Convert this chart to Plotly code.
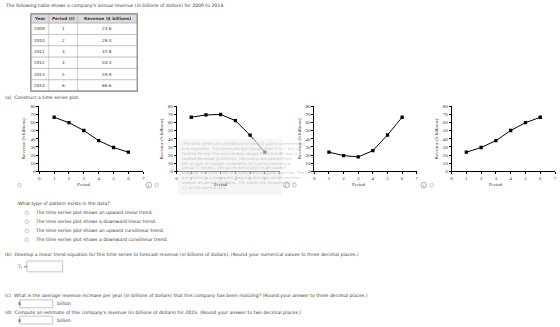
import plotly.graph_objects as go

W, H = 560, 327

# ---------------- data ----------------
years = ["2009", "2010", "2011", "2012", "2013", "2014"]
periods = [1, 2, 3, 4, 5, 6]
revenue = [23.6, 29.4, 37.8, 50.3, 59.9, 66.6]
table_headers = ["Year", "Period (<i>t</i>)", "Revenue ($ billions)"]

plot_a_values = [66.6, 59.9, 50.3, 37.8, 29.4, 23.6]
plot_b_values = [66.6, 69.5, 70.0, 62.5, 44.5, 23.6]
plot_c_values = [23.6, 19.4, 17.8, 25.5, 44.8, 66.6]
plot_d_values = [23.6, 29.4, 37.8, 50.3, 59.9, 66.6]

x_ticks = [0, 1, 2, 3, 4, 5, 6, 7]
y_ticks = [0, 10, 20, 30, 40, 50, 60, 70, 80]

options = [
    "The time series plot shows an upward linear trend.",
    "The time series plot shows a downward linear trend.",
    "The time series plot shows an upward curvilinear trend.",
    "The time series plot shows a downward curvilinear trend.",
]


def X(px):
    return px / W


def Y(py):
    return 1 - py / H


BODY = "DejaVu Sans"
SERIF = "Liberation Serif"
TXT = "#3a3a3a"
FS = 4.6

fig = go.Figure()
annotations = []
shapes = []


def txt(x, y, s, size=FS, anchor="left", color=TXT, family=BODY):
    annotations.append(dict(x=X(x), y=Y(y), xref="paper", yref="paper", text=s,
                            showarrow=False, xanchor=anchor, yanchor="middle",
                            font=dict(family=family, size=size, color=color)))


def rect(x0, y0, x1, y1, line="#a0a0a0", lw=0.6, fill="white", layer="above"):
    shapes.append(dict(type="rect", xref="paper", yref="paper", layer=layer,
                       x0=X(x0), x1=X(x1), y0=Y(y1), y1=Y(y0),
                       line=dict(color=line, width=lw), fillcolor=fill))


# ---------------- table (drawn from the arrays) ----------------
col_edges = [30, 48, 77, 137]
header_top, header_bot, row_h = 12, 21.5, 11.5
n_rows = len(years)
table_bot = header_bot + n_rows * row_h
rect(col_edges[0], header_top, col_edges[-1], header_bot, line="#aaaaaa", lw=0.6, fill="#dcdcdc", layer="below")
for r in range(n_rows):
    rect(col_edges[0], header_bot + r * row_h, col_edges[-1], header_bot + (r + 1) * row_h,
         line="#b0b0b0", lw=0.6, fill="white", layer="below")
for c in col_edges[1:-1]:
    shapes.append(dict(type="line", xref="paper", yref="paper", layer="below",
                       x0=X(c), x1=X(c), y0=Y(header_top), y1=Y(table_bot),
                       line=dict(color="#b0b0b0", width=0.6)))
rect(col_edges[0], header_top, col_edges[-1], table_bot, line="#8a8a8a", lw=1.2, fill="rgba(0,0,0,0)", layer="below")
for c, h in enumerate(table_headers):
    txt((col_edges[c] + col_edges[c + 1]) / 2, (header_top + header_bot) / 2, "<b>" + h + "</b>",
        size=4.2, anchor="center", color="#333")
columns = [years, periods, revenue]
for c, col in enumerate(columns):
    for r, v in enumerate(col):
        txt((col_edges[c] + col_edges[c + 1]) / 2, header_bot + (r + 0.5) * row_h, str(v),
            size=4.2, anchor="center", color="#333")

# ---------------- plots ----------------
plots = [
    (plot_a_values, 38.5, 143),
    (plot_b_values, 176.5, 280),
    (plot_c_values, 315, 418),
    (plot_d_values, 453, 557),
]
y_top, y_bot = 106, 172

for i, (vals, x0, x1) in enumerate(plots, start=1):
    xa = "x" if i == 1 else f"x{i}"
    ya = "y" if i == 1 else f"y{i}"
    fig.add_trace(go.Scatter(
        x=periods, y=vals, xaxis=xa, yaxis=ya, mode="lines+markers",
        line=dict(color="black", width=1),
        marker=dict(symbol="square", size=3.3, color="black"),
        showlegend=False, hoverinfo="skip",
    ))
    axcommon = dict(showline=True, linecolor="black", linewidth=0.8, ticks="outside",
                    ticklen=2, tickwidth=0.8, tickcolor="black", showgrid=False,
                    zeroline=False, tickfont=dict(family=SERIF, size=5, color="#333"))
    fig.layout[("xaxis" if i == 1 else f"xaxis{i}")] = dict(
        domain=[X(x0), X(x1)], range=[0, 7], tickvals=x_ticks, anchor=ya, **axcommon)
    fig.layout[("yaxis" if i == 1 else f"yaxis{i}")] = dict(
        domain=[Y(y_bot), Y(y_top)], range=[0, 80], tickvals=y_ticks, anchor=xa, **axcommon)
    txt(x0 - 15, (y_top + y_bot) / 2, "Revenue ($ billions)", size=5, anchor="center",
        color="#333", family=SERIF)
    annotations[-1]["textangle"] = -90
    txt((x0 + x1) / 2 - 7, 185, "Period", size=5, anchor="center", color="#333", family=SERIF)
    # radio button
    rx = x0 - 20
    shapes.append(dict(type="circle", xref="paper", yref="paper",
                       x0=X(rx - 2), x1=X(rx + 2), y0=Y(188), y1=Y(184),
                       line=dict(color="#b0b0b0", width=0.6), fillcolor="#f4f4f4"))
    if i > 1:
        ix = rx - 8
        shapes.append(dict(type="circle", xref="paper", yref="paper",
                           x0=X(ix - 2.8), x1=X(ix + 2.8), y0=Y(188.8), y1=Y(183.2),
                           line=dict(color="#777", width=0.6), fillcolor="white"))
        txt(ix, 186, "i", size=4.5, anchor="center", color="#555", family=SERIF)

# overlay on plot b (alt-text tooltip)
rect(178, 139, 283, 196, line="rgba(0,0,0,0)", lw=0, fill="rgba(238,238,238,0.6)")
overlay_lines = [
    "The time series plot contains a series of 6 points connected by",
    "line segments. The horizontal axis ranges from 0 to 7 and is",
    "labeled Period. The vertical axis ranges from 0 to 80 and is",
    "labeled Revenue ($ billions). The points are plotted from",
    "left to right at regular increments of 1 period starting at",
    "period 1. Initially, the points are plotted in an upward",
    "diagonal direction, then in a downward diagonal direction. The points",
    "are plotted in a downward diagonal direction which becomes",
    "steeper as period increases. The points are between 23 to",
    "71 on the vertical axis.",
]
for k, line in enumerate(overlay_lines):
    txt(180, 144 + k * 4.9, line, size=3.9, color="rgba(170,170,170,0.7)")

# ---------------- body text ----------------
txt(2, 4, "The following table shows a company's annual revenue (in billions of dollars) for 2009 to 2014.")
txt(2, 97, "(a)&nbsp;&nbsp;Construct a time series plot.")
txt(15, 205, "What type of pattern exists in the data?")
for k, opt in enumerate(options):
    yy = 214 + k * 9.2
    shapes.append(dict(type="circle", xref="paper", yref="paper",
                       x0=X(24), x1=X(28), y0=Y(yy + 2), y1=Y(yy - 2),
                       line=dict(color="#b0b0b0", width=0.6), fillcolor="#f4f4f4"))
    txt(32, yy, opt)

txt(2, 256.5, "(b)&nbsp;&nbsp;Develop a linear trend equation for this time series to forecast revenue (in billions of dollars). (Round your numerical values to three decimal places.)")
txt(14, 269, "T<sub>t</sub> =")
rect(26, 263, 62, 274)

txt(2, 298.5, "(c)&nbsp;&nbsp;What is the average revenue increase per year (in billions of dollars) that this company has been realizing? (Round your answer to three decimal places.)")
txt(15, 306.5, "$")
rect(19, 302.5, 52, 310.5)
txt(54.5, 306.5, "billion")

txt(2, 315, "(d)&nbsp;&nbsp;Compute an estimate of this company's revenue (in billions of dollars) for 2015. (Round your answer to two decimal places.)")
txt(15, 323, "$")
rect(19, 319, 52, 327)
txt(54.5, 323, "billion")

fig.update_layout(
    width=W, height=H, autosize=False,
    margin=dict(l=0, r=0, t=0, b=0),
    paper_bgcolor="white", plot_bgcolor="white",
    annotations=annotations, shapes=shapes,
    showlegend=False,
)

fig.write_html("out.html", config={"displayModeBar": False})
